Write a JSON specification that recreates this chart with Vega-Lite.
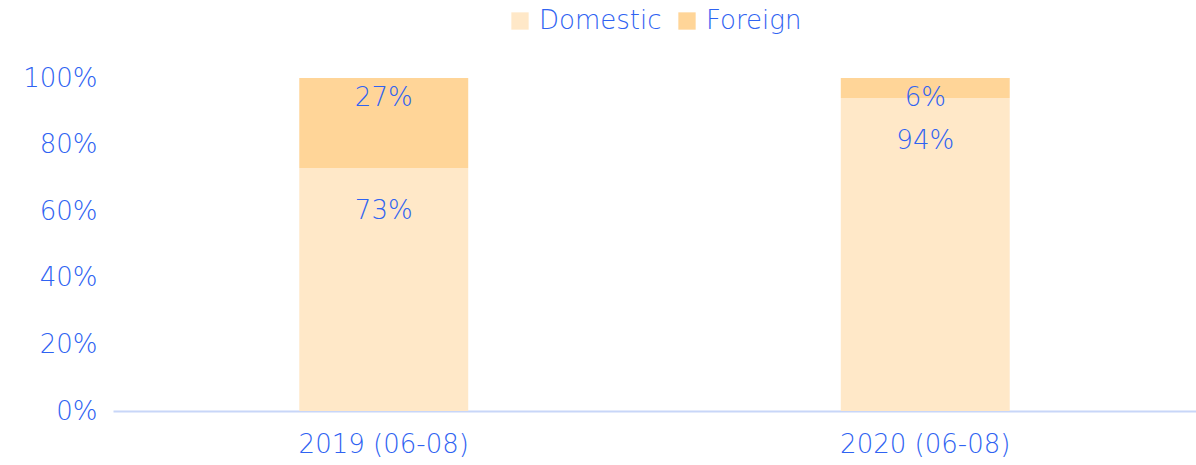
{
  "$schema": "https://vega.github.io/schema/vega-lite/v6.json",
  "width": 1196,
  "height": 465,
  "autosize": {"type": "fit", "contains": "padding"},
  "padding": {"left": 22, "right": 0, "top": 8, "bottom": 8},
  "background": "white",
  "config": {
    "view": {"stroke": null},
    "font": "DejaVu Sans",
    "axis": {"labelColor": "#2F63F2", "labelFont": "DejaVu Sans", "labelFontWeight": 200, "labelFontSize": 26, "grid": false, "ticks": false},
    "legend": {"labelColor": "#2F63F2", "labelFont": "DejaVu Sans", "labelFontWeight": 200, "labelFontSize": 26, "layout": {"top": {"anchor": "middle"}}}
  },
  "data": {
    "values": [
      {"period": "2019 (06-08)", "type": "Domestic", "value": 0.73, "label": "73%"},
      {"period": "2019 (06-08)", "type": "Foreign", "value": 0.27, "label": "27%"},
      {"period": "2020 (06-08)", "type": "Domestic", "value": 0.94, "label": "94%"},
      {"period": "2020 (06-08)", "type": "Foreign", "value": 0.06, "label": "6%"}
    ]
  },
  "transform": [
    {"stack": "value", "groupby": ["period"], "sort": [{"field": "type", "order": "ascending"}], "as": ["v0", "v1"]}
  ],
  "encoding": {
    "x": {
      "field": "period", "type": "nominal", "title": null,
      "scale": {"paddingInner": 0.688, "paddingOuter": 0.344},
      "axis": {"labelAngle": 0, "domain": true, "domainColor": "#C8D6F8", "domainWidth": 2, "labelPadding": 20}
    }
  },
  "layer": [
    {
      "mark": {"type": "bar"},
      "encoding": {
        "y": {"field": "v0", "type": "quantitative", "title": null,
          "scale": {"domain": [0, 1]},
          "axis": {"format": "%", "values": [0, 0.2, 0.4, 0.6, 0.8, 1], "labelOverlap": false, "domain": false, "labelPadding": 16}},
        "y2": {"field": "v1"},
        "color": {
          "field": "type", "type": "nominal",
          "scale": {"domain": ["Domestic", "Foreign"], "range": ["#FFE8C8", "#FFD598"]},
          "legend": {"orient": "top", "direction": "horizontal", "title": null, "symbolType": "square", "symbolSize": 300, "symbolStrokeWidth": 0, "columnPadding": 12, "labelOffset": 6, "offset": 44}
        }
      }
    },
    {
      "transform": [{"filter": "datum.type == 'Foreign'"}],
      "mark": {"type": "text", "fontSize": 26, "fontWeight": 200, "color": "#2F63F2", "baseline": "middle", "dy": 20},
      "encoding": {
        "y": {"field": "v1", "type": "quantitative"},
        "text": {"field": "label"}
      }
    },
    {
      "transform": [{"filter": "datum.type == 'Domestic'"}],
      "mark": {"type": "text", "fontSize": 26, "fontWeight": 200, "color": "#2F63F2", "baseline": "middle", "dy": 43},
      "encoding": {
        "y": {"field": "v1", "type": "quantitative"},
        "text": {"field": "label"}
      }
    }
  ]
}
